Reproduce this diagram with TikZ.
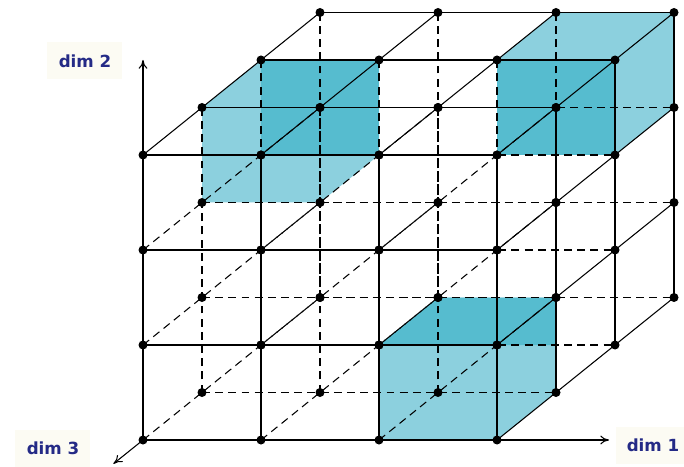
\documentclass[tikz,border=0pt]{standalone}
\usepackage{fontspec}
\usepackage{xcolor}
\usepackage{tikz}
\usetikzlibrary{calc, arrows.meta}

\newfontfamily\dimfont{DejaVu Sans}

\definecolor{cubelight}{RGB}{140,208,222}
\definecolor{cubedark}{RGB}{86,188,207}
\definecolor{dimblue}{RGB}{36,42,134}
\definecolor{labelbg}{RGB}{252,251,243}

\begin{document}
\begin{tikzpicture}[
    x={(2.36cm,0cm)}, y={(0cm,1.9cm)}, z={(1.18cm,0.95cm)},
    gridline/.style={line width=0.6pt},
    hidden/.style={line width=0.6pt, dash pattern=on 4.5pt off 3pt},
    axis/.style={line width=0.6pt, -{To[length=5pt,width=5pt]}},
    dimlabel/.style={fill=labelbg, text=dimblue, inner sep=2pt,
        font=\dimfont\bfseries\fontsize{9.5}{11}\selectfont,
        minimum width=1.5cm, minimum height=0.74cm}
]

    \useasboundingbox (-2.86cm,-0.52cm) rectangle (10.82cm,8.8cm);

    % =================================================================
    % LATTICE POINTS (i = dim 1, j = dim 2, k = depth)
    % =================================================================
    \foreach \i in {0,...,3}
        \foreach \j in {0,...,3}
            \foreach \k in {0,...,3}
                \coordinate (c-\i-\j-\k) at (\i,\j,\k);

    % =================================================================
    % SHADED CELLS
    % =================================================================
    % upper left cell
    \fill[cubelight] (c-0-2-1) -- (c-0-3-1) -- (c-0-3-2) -- (c-1-3-2)
        -- (c-1-2-2) -- (c-1-2-1) -- cycle;
    \fill[cubedark] (c-0-2-2) rectangle (c-1-3-2);

    % upper right cell
    \fill[cubelight] (c-2-2-2) -- (c-2-3-2) -- (c-2-3-3) -- (c-3-3-3)
        -- (c-3-2-3) -- (c-3-2-2) -- cycle;
    \fill[cubedark] (c-2-2-2) rectangle (c-3-3-2);

    % lower cell
    \fill[cubelight] (c-2-0-0) -- (c-2-1-0) -- (c-2-1-1) -- (c-3-1-1)
        -- (c-3-0-1) -- (c-3-0-0) -- cycle;
    \fill[cubedark] (c-2-1-0) -- (c-2-1-1) -- (c-3-1-1)
        -- ($(c-3-0-1)!.5!(c-3-1-1)$) -- cycle;

    % =================================================================
    % GRID LINES (solid on front, top and right faces, dashed inside)
    % =================================================================
    \foreach \a in {0,...,3}
        \foreach \b in {0,...,3}{
            % along dim 1
            \pgfmathtruncatemacro\vis{(\a==3)||(\b==0)}
            \ifnum\vis=1 \def\sty{gridline}\else\def\sty{hidden}\fi
            \draw[\sty] (c-0-\a-\b) -- (c-3-\a-\b);
            % along dim 2
            \draw[\sty] (c-\a-0-\b) -- (c-\a-3-\b);
            % along depth
            \pgfmathtruncatemacro\vis{(\a==3)||(\b==3)}
            \ifnum\vis=1 \def\sty{gridline}\else\def\sty{hidden}\fi
            \draw[\sty] (c-\a-\b-0) -- (c-\a-\b-3);
        }

    % =================================================================
    % AXES
    % =================================================================
    \coordinate (d1) at (3.95,0,0);
    \coordinate (d2) at (0,4,0);
    \coordinate (d3) at (0,0,-0.5);
    \draw[axis] (c-0-0-0) -- (d1);
    \draw[axis] (c-0-0-0) -- (d2);
    \draw[axis] (c-0-0-0) -- (d3);

    % Dots
    \foreach \i in {0,...,3}
        \foreach \j in {0,...,3}
            \foreach \k in {0,...,3}
                \fill (c-\i-\j-\k) circle (0.09cm);

    % Labels
    \node[dimlabel] (lab2) at (-1.16cm,7.58cm) {dim 2};
    \node[dimlabel] (lab3) at (-1.8cm,-0.16cm) {dim 3};
    \node[dimlabel] (lab1) at (10.2cm,-0.1cm) {dim 1};

\end{tikzpicture}
\end{document}
